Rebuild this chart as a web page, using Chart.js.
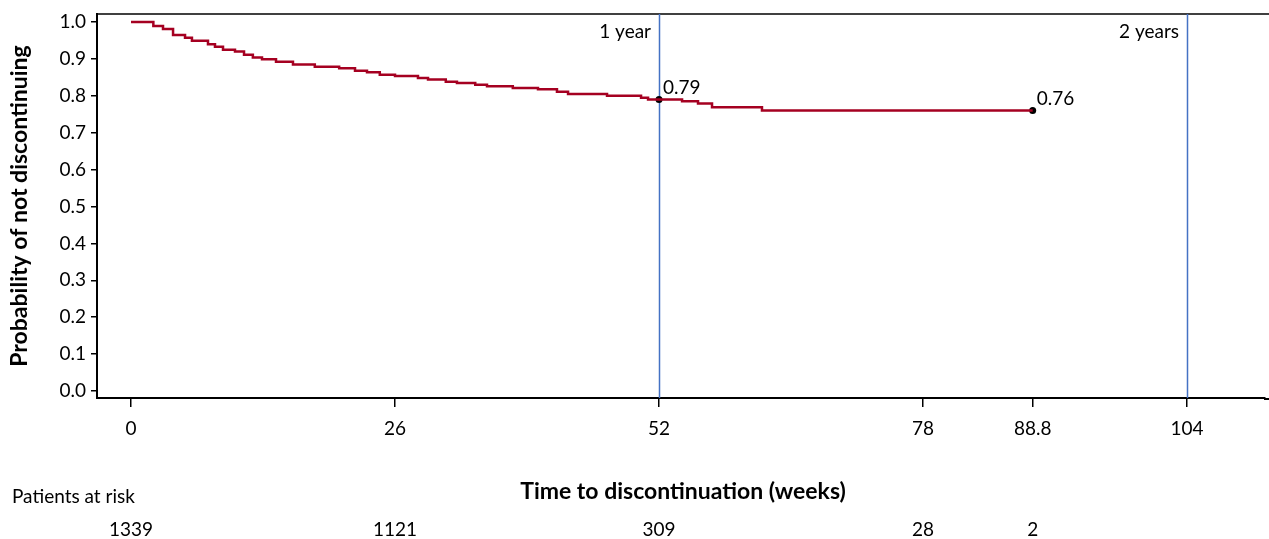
<!DOCTYPE html>
<html>
<head>
<meta charset="utf-8">
<script src="https://cdn.jsdelivr.net/npm/chart.js@4"></script>
<style>
  html, body { margin: 0; padding: 0; background: #fff; }
  canvas { display: block; }
</style>
</head>
<body>
<canvas id="km" width="1269" height="539"></canvas>
<script>
// Kaplan-Meier steps (week of drop, probability from then on)
const weeks = [0, 2.2, 3.15, 4.14, 5.32, 6.0, 7.58, 8.27, 9.06, 10.24, 11.13, 12.0, 12.9, 14.28, 15.95,
  18.1, 20.5, 22.06, 23.24, 24.5, 26.0, 28.26, 29.25, 31.0, 32.1, 33.9, 35.06, 37.6, 40.08, 41.95,
  43.04, 46.88, 50.23, 50.92, 54.27, 55.84, 57.22, 62.14, 88.8];
const survival = [1.0, 0.989, 0.981, 0.965, 0.957, 0.949, 0.940, 0.933, 0.925, 0.920, 0.911, 0.904, 0.899, 0.892, 0.885,
  0.879, 0.875, 0.868, 0.864, 0.857, 0.854, 0.848, 0.844, 0.838, 0.835, 0.830, 0.826, 0.821, 0.818, 0.811,
  0.805, 0.800, 0.795, 0.790, 0.785, 0.779, 0.769, 0.760, 0.760];

const markWeeks = [52, 88.8];
const markValues = [0.79, 0.76];

const refWeeks = [52, 104];
const refLabels = ["1 year", "2 years"];

const xTicks = [0, 26, 52, 78, 88.8, 104];
const yTicks = [0, 0.1, 0.2, 0.3, 0.4, 0.5, 0.6, 0.7, 0.8, 0.9, 1.0];

const riskWeeks = [0, 26, 52, 78, 88.8];
const atRisk = [1339, 1121, 309, 28, 2];

const FONT = "Lato, 'Open Sans', sans-serif";
Chart.defaults.font.family = FONT;
Chart.defaults.color = "#000";

const extras = {
  id: "extras",
  beforeDatasetsDraw(chart) {
    const { ctx, chartArea: a, scales: { x } } = chart;
    ctx.save();
    ctx.strokeStyle = "#000";
    ctx.lineWidth = 1.5;
    ctx.beginPath();
    ctx.moveTo(a.left, a.top);
    ctx.lineTo(chart.width, a.top);
    ctx.stroke();
    ctx.strokeStyle = "#4472C4";
    ctx.lineWidth = 1.5;
    refWeeks.forEach(w => {
      const px = Math.round(x.getPixelForValue(w)) + 0.5;
      ctx.beginPath();
      ctx.moveTo(px, a.top);
      ctx.lineTo(px, a.bottom);
      ctx.stroke();
    });
    ctx.restore();
  },
  afterDraw(chart) {
    const { ctx, chartArea: a, scales: { x, y } } = chart;
    ctx.save();
    // stretch the bottom axis line to the right edge
    ctx.strokeStyle = "#000";
    ctx.lineWidth = 2;
    ctx.beginPath();
    ctx.moveTo(a.right - 1, a.bottom + 1);
    ctx.lineTo(chart.width, a.bottom + 1);
    ctx.stroke();

    ctx.fillStyle = "#000";
    ctx.font = "19px " + FONT;
    ctx.textBaseline = "middle";
    ctx.textAlign = "right";
    refWeeks.forEach((w, i) => {
      ctx.fillText(refLabels[i], x.getPixelForValue(w) - 8, a.top + 18);
    });
    ctx.textAlign = "left";
    markWeeks.forEach((w, i) => {
      ctx.fillText(markValues[i].toFixed(2), x.getPixelForValue(w) + 4, y.getPixelForValue(markValues[i]) - 12);
    });
    // axis titles
    ctx.font = "bold 23px " + FONT;
    ctx.textAlign = "center";
    ctx.fillText("Time to discontinuation (weeks)", (a.left + chart.width) / 2, 492);
    ctx.save();
    ctx.translate(20, (a.top + a.bottom) / 2);
    ctx.rotate(-Math.PI / 2);
    ctx.fillText("Probability of not discontinuing", 0, 0);
    ctx.restore();
    // patients at risk
    ctx.font = "19px " + FONT;
    ctx.textAlign = "left";
    ctx.fillText("Patients at risk", 12, 497);
    ctx.textAlign = "center";
    riskWeeks.forEach((w, i) => {
      ctx.fillText(String(atRisk[i]), x.getPixelForValue(w), 530);
    });
    ctx.restore();
  }
};

new Chart(document.getElementById("km"), {
  type: "scatter",
  data: {
    datasets: [
      {
        data: weeks.map((w, i) => ({ x: w, y: survival[i] })),
        showLine: true,
        stepped: "before",
        borderColor: "#A50021",
        borderWidth: 2.5,
        pointRadius: 0,
        fill: false
      },
      {
        data: markWeeks.map((w, i) => ({ x: w, y: markValues[i] })),
        showLine: false,
        pointRadius: 3.5,
        pointBackgroundColor: "#000",
        pointBorderColor: "#000",
        pointBorderWidth: 0
      }
    ]
  },
  options: {
    responsive: false,
    animation: false,
    layout: { padding: { top: 14, left: 0, right: 0, bottom: 0 } },
    plugins: { legend: { display: false }, tooltip: { enabled: false } },
    scales: {
      x: {
        type: "linear",
        min: -3.35,
        max: 111.68,
        afterBuildTicks: s => { s.ticks = xTicks.map(v => ({ value: v })); },
        afterFit: s => { s.height = 141; s.paddingLeft = 0; s.paddingRight = 0; },
        ticks: { font: { size: 19 }, padding: 10, maxRotation: 0, callback: v => String(v) },
        grid: { drawOnChartArea: false, tickLength: 9, color: "#000", lineWidth: 1.5 },
        border: { color: "#000", width: 2 }
      },
      y: {
        min: -0.019,
        max: 1.0217,
        afterBuildTicks: s => { s.ticks = yTicks.map(v => ({ value: v })); },
        afterFit: s => { s.width = 97; s.paddingTop = 0; s.paddingBottom = 0; },
        ticks: { font: { size: 19 }, padding: 5, callback: v => v.toFixed(1) },
        grid: { drawOnChartArea: false, tickLength: 6, color: "#000", lineWidth: 1.5 },
        border: { color: "#000", width: 2 }
      }
    }
  },
  plugins: [extras]
});
</script>
</body>
</html>
